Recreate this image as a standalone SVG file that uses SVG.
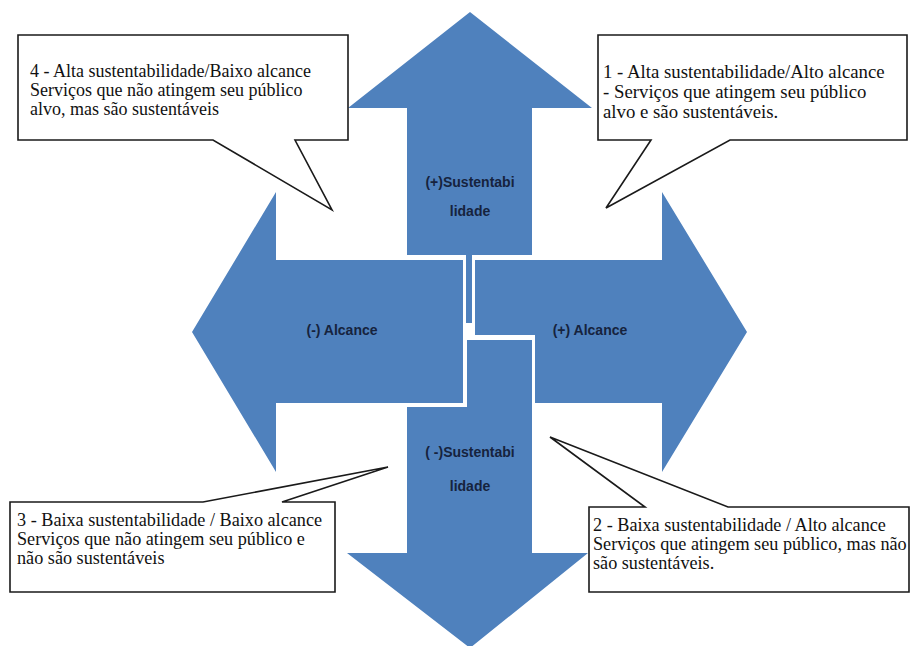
<svg xmlns="http://www.w3.org/2000/svg" width="913" height="646" viewBox="0 0 913 646">
<style>
.arrow{fill:#4f81bd;stroke:none}
.lbl{font-family:"Liberation Sans",Arial,sans-serif;font-weight:bold;font-size:14px;fill:#16233d;text-anchor:middle}
.box{fill:#ffffff;stroke:#1a1a1a;stroke-width:1.6;stroke-linejoin:miter}
.txt{font-family:"Liberation Serif","Times New Roman",serif;font-size:18.2px;fill:#111}
</style>
<rect width="913" height="646" fill="#ffffff"/>
<g id="arrow-up">
<polygon class="arrow" points="470,12 592,108 532,108 532,255 472,255 472,323 466,323 466,255 407,255 407,108 348,108"/>
<text class="lbl" x="470" y="187">(+)Sustentabi</text>
<text class="lbl" x="470" y="216">lidade</text>
</g>
<g id="arrow-left">
<polygon class="arrow" points="192,332 276,192 276,260 463,260 463,403 276,403 276,472"/>
<text class="lbl" x="342" y="335">(-) Alcance</text>
</g>
<g id="arrow-right">
<polygon class="arrow" points="747,332 662,472 662,403 535,403 535,335 475,335 475,260 662,260 662,192"/>
<text class="lbl" x="590" y="335">(+) Alcance</text>
</g>
<g id="arrow-down">
<polygon class="arrow" points="470,648 588,553 532,553 532,340 467,340 467,407 407,407 407,553 347,553"/>
<text class="lbl" x="470" y="457">( -)Sustentabi</text>
<text class="lbl" x="470" y="491">lidade</text>
</g>
<g id="connectors"></g>
<g id="callout-4">
<path class="box" d="M18,35 H348 V140 H295 L332,210 L213,140 H18 Z"/>
<text class="txt" x="30" y="77" style="font-size:18px">4 - Alta sustentabilidade/Baixo alcance</text>
<text class="txt" x="30" y="96" style="font-size:18px">Serviços que não atingem seu público</text>
<text class="txt" x="30" y="115" style="font-size:18px">alvo, mas são sustentáveis</text>
</g>
<g id="callout-1">
<path class="box" d="M598,35 H907 V140 H730 L606,208 L651,140 H598 Z"/>
<text class="txt" x="603" y="78" style="font-size:18.8px">1  - Alta sustentabilidade/Alto alcance</text>
<text class="txt" x="603" y="98" style="font-size:18.8px">- Serviços que atingem seu público</text>
<text class="txt" x="603" y="118" style="font-size:18.8px">alvo e são sustentáveis.</text>
</g>
<g id="callout-3">
<path class="box" d="M10,502 H203 L388,467 L282,502 H335 V592 H10 Z"/>
<text class="txt" x="17" y="526">3 - Baixa sustentabilidade / Baixo alcance</text>
<text class="txt" x="17" y="545">Serviços que não atingem seu público e</text>
<text class="txt" x="17" y="564">não são sustentáveis</text>
</g>
<g id="callout-2">
<path class="box" d="M589,507 H645 L550,437 L728,507 H909 V592 H589 Z"/>
<text class="txt" x="593" y="531">2 - Baixa sustentabilidade / Alto alcance</text>
<text class="txt" x="593" y="550">Serviços que atingem seu público, mas não</text>
<text class="txt" x="593" y="569">são sustentáveis.</text>
</g>
</svg>
